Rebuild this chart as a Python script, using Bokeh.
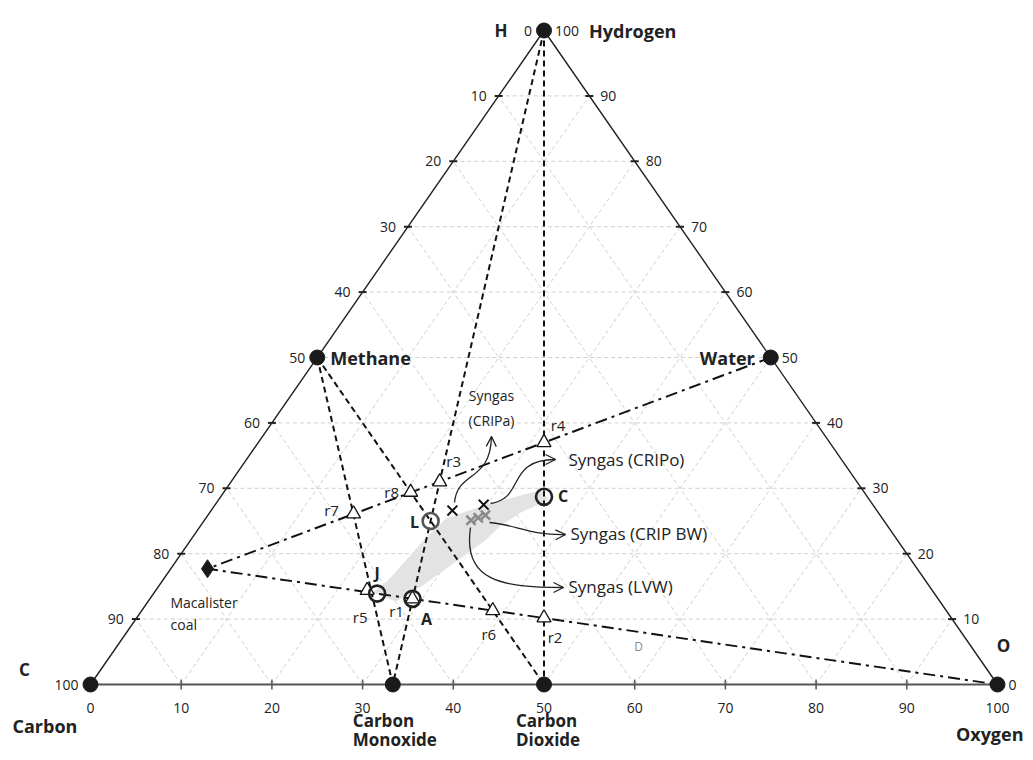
from bokeh.plotting import figure
from bokeh.models import Range1d, Arrow, OpenHead
from bokeh.embed import file_html
from bokeh.resources import INLINE
from bokeh.core.properties import value

# ---------------- data (compositions in %: o = oxygen, h = hydrogen, carbon = 100-o-h)
ticks = [0, 10, 20, 30, 40, 50, 60, 70, 80, 90, 100]

vertex_names = ["C", "O", "H"]
vertex_o = [0, 100, 0]
vertex_h = [0, 0, 100]

species_names = ["Methane", "Water", "Carbon Monoxide", "Carbon Dioxide"]
species_o = [0, 50, 33.33, 50]
species_h = [50, 50, 0, 0]

coal_name = "Macalister coal"
coal_o = [4.05]
coal_h = [17.7]

r_names = ["r1", "r2", "r3", "r4", "r5", "r6", "r7", "r8"]
r_o = [28.95, 44.9, 23.0, 31.5, 23.3, 38.7, 15.95, 20.6]
r_h = [13.1, 10.2, 31.0, 37.0, 14.4, 11.3, 26.1, 29.4]

circ_names = ["L", "C", "J", "A"]
circ_o = [25.0, 35.65, 24.65, 28.95]
circ_h = [25.0, 28.7, 13.9, 13.1]

syn_names = ["Syngas (CRIPa)", "Syngas (CRIPo)", "Syngas (CRIP BW)", "Syngas (LVW)"]
syn_o = [26.6, 29.6, 30.6, 29.4]
syn_h = [26.6, 27.5, 25.9, 25.1]
syn_mid_o = [30.0]
syn_mid_h = [25.5]

region_o = [24.1, 24.8, 25.3, 25.7, 26.5, 29.4, 33.0, 34.8, 36.4, 34.3, 33.1, 32.5, 30.6, 28.7, 27.3]
region_h = [14.1, 15.8, 19.0, 22.0, 25.4, 27.2, 28.9, 29.7, 28.3, 26.3, 24.3, 22.0, 18.2, 14.4, 12.7]

# ---------------- layout
FONT = "Open Sans"
W, H = 1025, 752
PX_X, PX_Y = 9.07, 6.54
X0 = -90 / PX_X
Y1 = 100 + 30 / PX_Y

def tx(o, h):
    return o + h / 2.0

def ty(o, h):
    return h

def XY(o, h):
    return tx(o, h), ty(o, h)

def off(x, y, dx, dy):
    return x + dx / PX_X, y - dy / PX_Y

def P(px, py):
    return (px - 90) / PX_X, (684 - py) / PX_Y

p = figure(width=W, height=H, x_range=Range1d(X0, X0 + W / PX_X),
           y_range=Range1d(Y1 - H / PX_Y, Y1), min_border=0,
           x_axis_location=None, y_axis_location=None,
           toolbar_location=None, output_backend="svg")
p.outline_line_color = None
p.xgrid.visible = False
p.ygrid.visible = False
p.background_fill_color = "white"

def label(x, y, txt, size=14, bold=False, align="center", color="#222222"):
    p.text(x=[x], y=[y], text=[txt], text_font=value(FONT),
           text_font_size=f"{size}px",
           text_font_style="bold" if bold else "normal",
           text_align=align, text_baseline="middle", text_color=color)

# ---------------- grid
gx, gy = [], []
for k in ticks[1:-1]:
    a, b = XY(0, k), XY(100 - k, k)
    gx.append([a[0], b[0]]); gy.append([a[1], b[1]])
    a, b = XY(k, 0), XY(k, 100 - k)
    gx.append([a[0], b[0]]); gy.append([a[1], b[1]])
    a, b = XY(100 - k, 0), XY(0, 100 - k)
    gx.append([a[0], b[0]]); gy.append([a[1], b[1]])
p.multi_line(gx, gy, line_color="#cfcfcf", line_width=1, line_dash="4 3")

# ---------------- shaded region
p.patch([tx(o, h) for o, h in zip(region_o, region_h)],
        [ty(o, h) for o, h in zip(region_o, region_h)],
        fill_color="#e3e3e3", line_color=None)

# ---------------- triangle edges
vx = {n: tx(o, h) for n, o, h in zip(vertex_names, vertex_o, vertex_h)}
vy = {n: ty(o, h) for n, o, h in zip(vertex_names, vertex_o, vertex_h)}
p.line([vx["C"], vx["H"], vx["O"]], [vy["C"], vy["H"], vy["O"]], line_color="#222222", line_width=1.4)
p.line([vx["C"], vx["O"]], [vy["C"], vy["O"]], line_color="#555555", line_width=2.2)

# ticks on edges
lt = [t for t in ticks[1:-1]]
p.scatter([tx(0, h) for h in lt], [ty(0, h) for h in lt], marker="dash", size=8, line_width=2, line_color="#222222")
p.scatter([tx(100 - h, h) for h in lt], [ty(100 - h, h) for h in lt], marker="dash", size=8, line_width=2, line_color="#222222")
p.scatter([tx(o, 0) for o in lt], [ty(o, 0) for o in lt], marker="dash", angle=1.5708, size=10, line_width=1.5, line_color="#555555")

# ---------------- construction lines
sx = {n: tx(o, h) for n, o, h in zip(species_names, species_o, species_h)}
sy = {n: ty(o, h) for n, o, h in zip(species_names, species_o, species_h)}
cx, cy = tx(coal_o[0], coal_h[0]), ty(coal_o[0], coal_h[0])
dashed = [("H", "Carbon Monoxide"), ("H", "Carbon Dioxide"),
          ("Methane", "Carbon Monoxide"), ("Methane", "Carbon Dioxide")]
allx = dict(sx); ally = dict(sy)
allx.update(vx); ally.update(vy)
for a, b in dashed:
    p.line([allx[a], allx[b]], [ally[a], ally[b]], line_color="#111111", line_width=2, line_dash="6 4")
p.line([allx["Water"], cx, allx["O"]], [ally["Water"], cy, ally["O"]],
       line_color="#111111", line_width=2, line_dash="12 5 3 5")

# ---------------- markers
p.scatter([tx(o, h) for o, h in zip(vertex_o, vertex_h)] + [tx(o, h) for o, h in zip(species_o, species_h)],
          [ty(o, h) for o, h in zip(vertex_o, vertex_h)] + [ty(o, h) for o, h in zip(species_o, species_h)],
          marker="circle", size=15, fill_color="#1a1a1a", line_color="#1a1a1a")
p.scatter([cx], [cy], marker="diamond", size=18, fill_color="#1a1a1a", line_color="#1a1a1a")
p.scatter([tx(o, h) for o, h in zip(r_o, r_h)], [ty(o, h) for o, h in zip(r_o, r_h)],
          marker="triangle", size=14, fill_color="white", line_color="#111111", line_width=1.3)
p.scatter([tx(o, h) for o, h in zip(circ_o, circ_h)], [ty(o, h) for o, h in zip(circ_o, circ_h)],
          marker="circle", size=16, fill_alpha=0, line_color=["#555555", "#222222", "#222222", "#222222"], line_width=2.6)
p.scatter([tx(o, h) for o, h in zip(syn_o[:2], syn_h[:2])], [ty(o, h) for o, h in zip(syn_o[:2], syn_h[:2])],
          marker="x", size=14, line_color="#111111", line_width=2)
gox = syn_o[2:] + syn_mid_o
goh = syn_h[2:] + syn_mid_h
p.scatter([tx(o, h) for o, h in zip(gox, goh)], [ty(o, h) for o, h in zip(gox, goh)],
          marker="x", size=13, line_color="#8a8a8a", line_width=2.5)

# ---------------- arrows to syngas labels (reference pixel paths)
arrow_paths = [
    [(454, 502), (457, 470), (490, 482), (491, 436)],
    [(490, 503), (525, 498), (505, 459), (555, 459)],
    [(489, 522), (515, 524), (530, 535), (565, 534)],
    [(470, 527), (462, 580), (500, 587), (563, 587)],
]
for path in arrow_paths:
    (x0, y0), (c1x, c1y), (c2x, c2y), (x1, y1) = [P(*q) for q in path]
    p.bezier(x0=[x0], y0=[y0], x1=[x1], y1=[y1], cx0=[c1x], cy0=[c1y], cx1=[c2x], cy1=[c2y],
             line_color="#222222", line_width=1.3)
    sxp, syp = P(*path[2]); exx, exy = P(*path[3])
    p.add_layout(Arrow(end=OpenHead(size=10, line_width=1.3, line_color="#222222"),
                       x_start=exx + (sxp - exx) * 0.05, y_start=exy + (syp - exy) * 0.05,
                       x_end=exx, y_end=exy, line_width=0, line_alpha=0))

# ---------------- tick labels
for t in ticks:
    x, y = XY(0, t)
    label(*off(x, y, -12, 0), str(100 - t), align="right")
    x, y = XY(100 - t, t)
    label(*off(x, y, 11, 0), str(t), align="left")
    x, y = XY(t, 0)
    label(*off(x, y, 0, 23), str(t), align="center")

# ---------------- vertex / species labels
B = 18
label(*off(vx["H"], vy["H"], -43, 0), "H", size=17, bold=True)
label(*off(vx["H"], vy["H"], 45, 0), "Hydrogen", size=B, bold=True, align="left")
label(*off(vx["C"], vy["C"], -66, -15), "C", size=17, bold=True)
label(*off(vx["C"], vy["C"], -78, 41), "Carbon", size=B, bold=True, align="left")
label(*off(vx["O"], vy["O"], 6, -39), "O", size=17, bold=True)
label(*off(vx["O"], vy["O"], 26, 49), "Oxygen", size=B, bold=True, align="right")
label(*off(sx["Methane"], sy["Methane"], 13, 0), "Methane", size=B, bold=True, align="left")
label(*off(sx["Water"], sy["Water"], -16, 0), "Water", size=B, bold=True, align="right")
label(*off(sx["Carbon Monoxide"], sy["Carbon Monoxide"], -40, 36), "Carbon", size=17, bold=True, align="left")
label(*off(sx["Carbon Monoxide"], sy["Carbon Monoxide"], -40, 55), "Monoxide", size=17, bold=True, align="left")
label(*off(sx["Carbon Dioxide"], sy["Carbon Dioxide"], -28, 36), "Carbon", size=17, bold=True, align="left")
label(*off(sx["Carbon Dioxide"], sy["Carbon Dioxide"], -28, 55), "Dioxide", size=17, bold=True, align="left")
label(*off(cx, cy, -37, 34), "Macalister", size=14, align="left")
label(*off(cx, cy, -37, 56), "coal", size=14, align="left")
label(*P(638, 646), "D", size=12, color="#8a8a8a")

# ---------------- point labels
r_off = {"r1": (-16, 12), "r2": (11, 19), "r3": (14, -21), "r4": (14, -18),
         "r5": (-7, 27), "r6": (-4, 23), "r7": (-22, -4), "r8": (-19, 0)}
for n, o, h in zip(r_names, r_o, r_h):
    dx, dy = r_off[n]
    label(*off(tx(o, h), ty(o, h), dx, dy), n, size=15)
c_off = {"L": (-16, 1), "C": (19, -1), "J": (0, -21), "A": (14, 20)}
for n, o, h in zip(circ_names, circ_o, circ_h):
    dx, dy = c_off[n]
    label(*off(tx(o, h), ty(o, h), dx, dy), n, size=16, bold=True)

# syngas labels
label(*P(491, 395), "Syngas", size=14)
label(*P(491, 420), "(CRIPa)", size=14)
label(*P(568, 459), syn_names[1], size=17, align="left")
label(*P(570, 533), syn_names[2], size=17, align="left")
label(*P(568, 586), syn_names[3], size=17, align="left")

open("out.html", "w").write(file_html(p, INLINE))
